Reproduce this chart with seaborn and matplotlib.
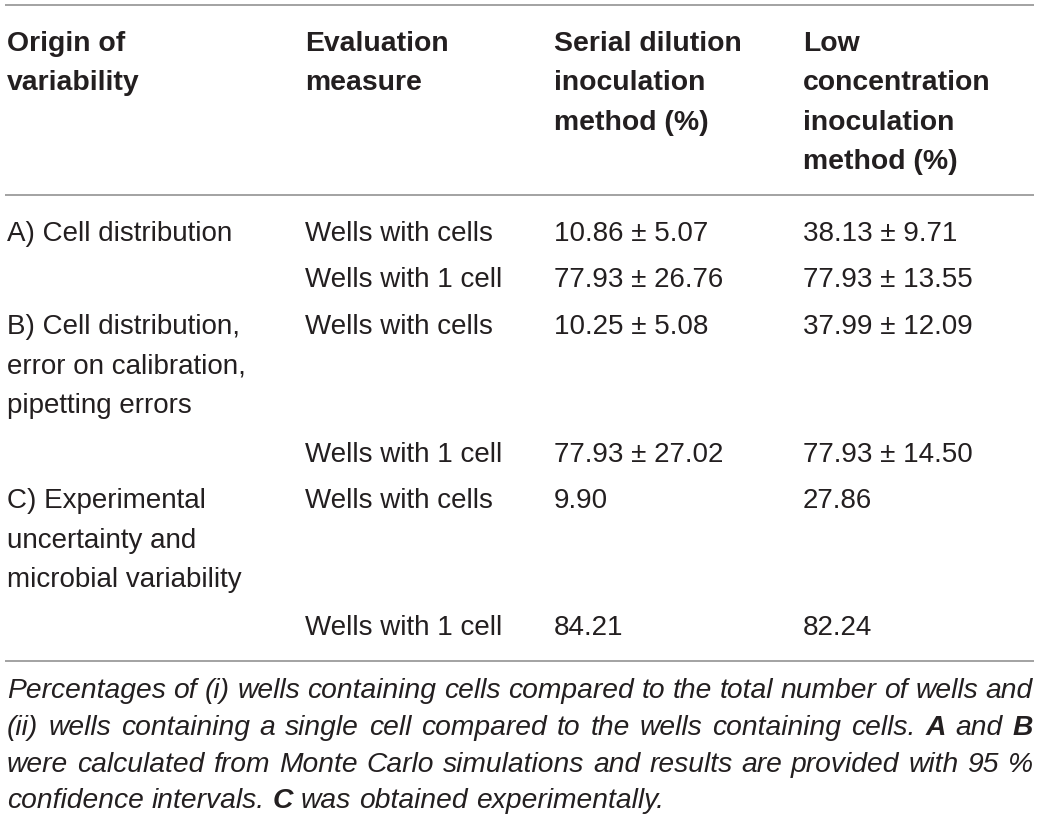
import seaborn as sns
import matplotlib.pyplot as plt

# table content
headers = [
    ["Origin of", "variability"],
    ["Evaluation", "measure"],
    ["Serial dilution", "inoculation", "method (%)"],
    ["Low", "concentration", "inoculation", "method (%)"],
]
origins = [
    ["A) Cell distribution"],
    ["B) Cell distribution,", "error on calibration,", "pipetting errors"],
    ["C) Experimental", "uncertainty and", "microbial variability"],
]
measures = ["Wells with cells", "Wells with 1 cell"]
serial_values = [
    ["10.86 \u00b1 5.07", "77.93 \u00b1 26.76"],
    ["10.25 \u00b1 5.08", "77.93 \u00b1 27.02"],
    ["9.90", "84.21"],
]
low_values = [
    ["38.13 \u00b1 9.71", "77.93 \u00b1 13.55"],
    ["37.99 \u00b1 12.09", "77.93 \u00b1 14.50"],
    ["27.86", "82.24"],
]
caption = [
    [("Percentages of (i) wells containing cells compared to the total number of wells and", False)],
    [("(ii) wells containing a single cell compared to the wells containing cells.", False),
     ("A", True), ("and", False), ("B", True)],
    [("were calculated from Monte Carlo simulations and results are provided with 95 %", False)],
    [("confidence intervals.", False), ("C", True), ("was obtained experimentally.", False)],
]

sns.set_theme(style="white")
plt.rcParams['font.family'] = ['Liberation Sans', 'DejaVu Sans']

W, H = 1041, 821
fig = plt.figure(figsize=(W / 100, H / 100), dpi=100)
ax = fig.add_axes([0, 0, 1, 1])
ax.set_xlim(0, W)
ax.set_ylim(H, 0)
ax.axis('off')

ink = '#231f20'
rule = '#9b9b9b'
fs = 20
head_fs = 20.4
col_x = [7, 305, 554, 803]

for y in [5, 195, 661]:
    ax.plot([5, 1034], [y, y], color=rule, lw=1.3, solid_capstyle='butt')

# header
for cx, lines in zip(col_x, headers):
    for i, t in enumerate(lines):
        ax.text(cx, 51 + i * 39.3, t, fontsize=head_fs, fontweight='bold',
                color=ink, va='baseline', ha='left')

# body rows: baseline of first line of each measure row
row_base = [(241, 287), (334, 462), (508, 635)]
for g in range(3):
    for i, t in enumerate(origins[g]):
        ax.text(col_x[0], row_base[g][0] + i * 39.5, t, fontsize=fs,
                color=ink, va='baseline')
    for k in range(2):
        yb = row_base[g][k]
        ax.text(col_x[1], yb, measures[k], fontsize=fs, color=ink, va='baseline')
        ax.text(col_x[2], yb, serial_values[g][k], fontsize=fs, color=ink, va='baseline')
        ax.text(col_x[3], yb, low_values[g][k], fontsize=fs, color=ink, va='baseline')

# caption, justified; size chosen so the first line fits with plain spaces
fig.canvas.draw()
renderer = fig.canvas.get_renderer()
left, right = 7, 1033
probe = ax.text(0, 0, caption[0][0][0], fontsize=20, style='italic')
w20 = probe.get_window_extent(renderer).width
probe.remove()
cap_fs = 20 * (right - left) / w20

for li, runs in enumerate(caption):
    yb = 698 + li * 36.8
    words = []
    for text, bold in runs:
        for w in text.split(' '):
            words.append((w, bold))
    arts = []
    for w, bold in words:
        t = ax.text(0, yb, w, fontsize=cap_fs, style='italic',
                    fontweight='bold' if bold else 'normal',
                    color=ink, va='baseline', ha='left')
        arts.append(t)
    widths = [a.get_window_extent(renderer).width for a in arts]
    if li < len(caption) - 1:
        gap = (right - left - sum(widths)) / (len(words) - 1)
    else:
        sp = ax.text(0, yb, 'a a', fontsize=cap_fs, style='italic')
        sp2 = ax.text(0, yb, 'aa', fontsize=cap_fs, style='italic')
        gap = sp.get_window_extent(renderer).width - sp2.get_window_extent(renderer).width
        sp.remove()
        sp2.remove()
    x = left
    for a, wd in zip(arts, widths):
        a.set_x(x)
        x += wd + gap

fig.savefig('out.png', dpi=100)
